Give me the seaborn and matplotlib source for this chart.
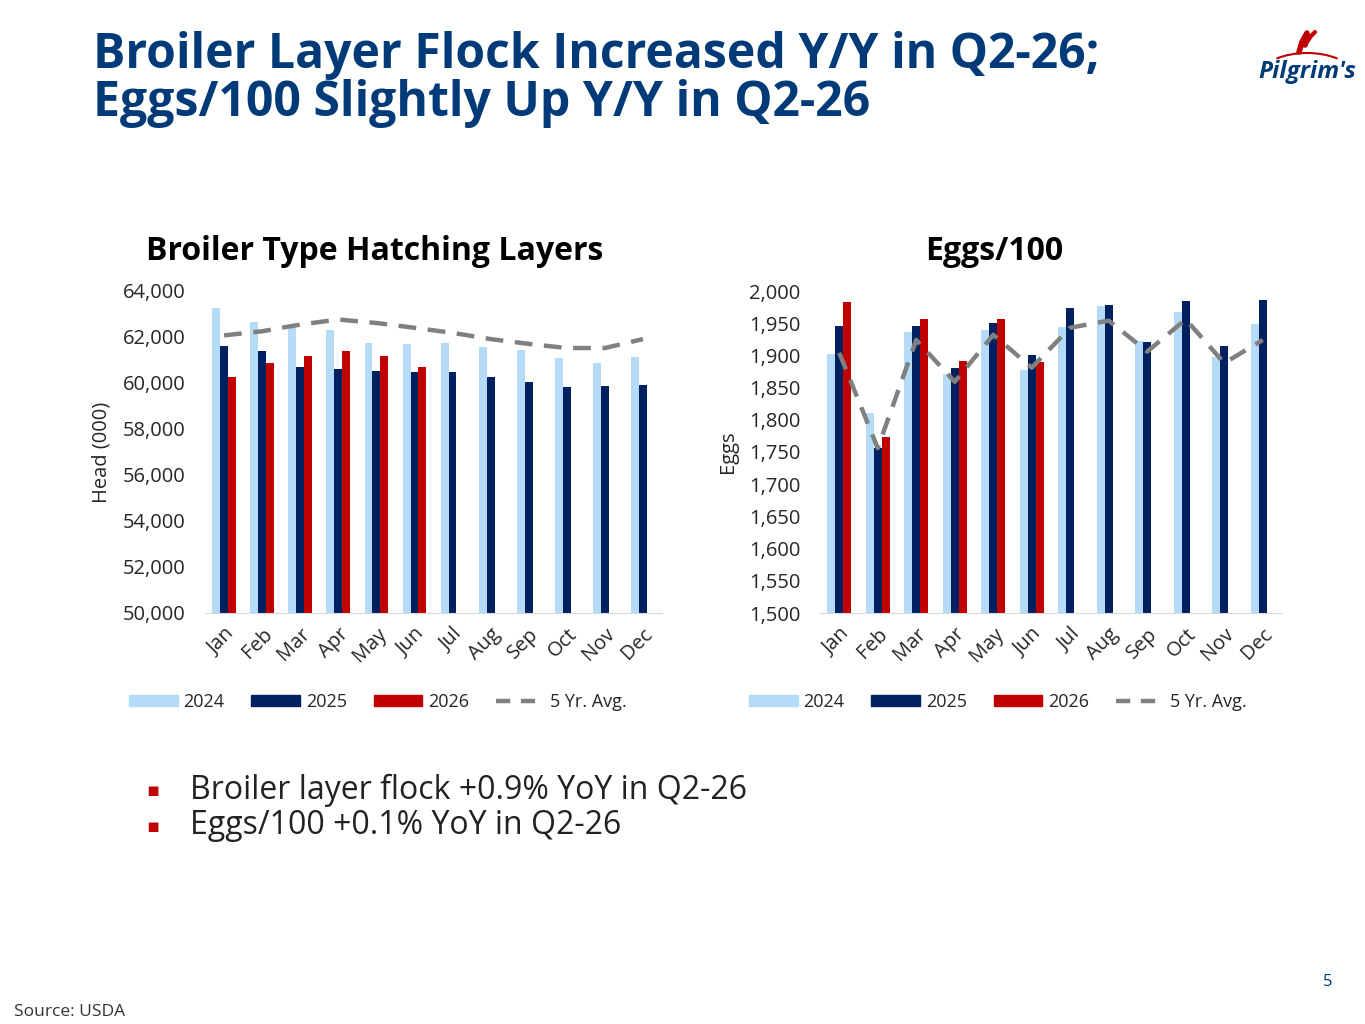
import numpy as np
import pandas as pd
import matplotlib
matplotlib.use("Agg")
import matplotlib.pyplot as plt
import seaborn as sns
from matplotlib.patches import Patch, Arc
from matplotlib.lines import Line2D
from matplotlib.ticker import FuncFormatter

# Data
months = ["Jan", "Feb", "Mar", "Apr", "May", "Jun",
          "Jul", "Aug", "Sep", "Oct", "Nov", "Dec"]
years = ["2024", "2025", "2026"]

layers_2024 = [63240, 62640, 62430, 62310, 61740, 61710,
               61730, 61550, 61430, 61070, 60860, 61140]
layers_2025 = [61610, 61390, 60680, 60600, 60530, 60490,
               60460, 60250, 60030, 59840, 59890, 59900]
layers_2026 = [60270, 60890, 61160, 61390, 61160, 60690,
               np.nan, np.nan, np.nan, np.nan, np.nan, np.nan]
layers_avg = [62070, 62250, 62540, 62760, 62610, 62400,
              62180, 61910, 61700, 61520, 61520, 61910]

eggs_2024 = [1902, 1810, 1936, 1871, 1939, 1878,
             1944, 1977, 1923, 1968, 1897, 1948]
eggs_2025 = [1945, 1756, 1945, 1881, 1950, 1900,
             1974, 1978, 1921, 1984, 1915, 1986]
eggs_2026 = [1983, 1774, 1956, 1892, 1957, 1890,
             np.nan, np.nan, np.nan, np.nan, np.nan, np.nan]
eggs_avg = [1904, 1756, 1924, 1859, 1932, 1881,
            1943, 1954, 1906, 1956, 1888, 1924]

LIGHT = "#B4DCF8"
NAVY = "#002060"
RED = "#C00000"
GRAY = "#808080"
TITLE_BLUE = "#003A78"

sns.set_style("white")
plt.rcParams["font.family"] = ["Open Sans", "DejaVu Sans"]


def long_frame(series):
    rows = []
    for yr, vals in zip(years, series):
        for m, v in zip(months, vals):
            if not np.isnan(v):
                rows.append({"month": m, "year": yr, "value": v})
    return pd.DataFrame(rows)


def draw_panel(ax, df, avg, ylim, step, ylabel, fmt, leg_x):
    sns.barplot(data=df, x="month", y="value", hue="year",
                order=months, hue_order=years,
                palette=[LIGHT, NAVY, RED], saturation=1,
                width=0.62, errorbar=None, legend=False, linewidth=0, ax=ax)
    sns.lineplot(x=np.arange(len(months)), y=avg, color=GRAY,
                 linewidth=3.2, dashes=False, ax=ax)
    ax.lines[-1].set_dashes((4, 2.6))
    ax.set_ylim(*ylim)
    ax.set_yticks(np.arange(ylim[0], ylim[1] + 1, step))
    ax.yaxis.set_major_formatter(FuncFormatter(fmt))
    ax.set_xlim(-0.5, len(months) - 0.5)
    ax.set_xlabel("")
    ax.set_ylabel(ylabel, fontsize=14.5, labelpad=8)
    ax.tick_params(axis="both", length=0, labelsize=14.5)
    ax.tick_params(axis="y", pad=14)
    ax.tick_params(axis="x", pad=8)
    for lab in ax.get_xticklabels():
        lab.set_rotation(45)
        lab.set_ha("right")
        lab.set_rotation_mode("anchor")
    for s in ["top", "right", "left"]:
        ax.spines[s].set_visible(False)
    ax.spines["bottom"].set_color("#D9D9D9")
    handles = [Patch(color=LIGHT, label="2024"),
               Patch(color=NAVY, label="2025"),
               Patch(color=RED, label="2026"),
               Line2D([0], [0], color=GRAY, lw=3.2, dashes=(3.2, 2.4),
                      label="5 Yr. Avg.")]
    ax.legend(handles=handles, loc="center", bbox_to_anchor=(leg_x, -0.275),
              ncol=4, frameon=False, fontsize=13, handlelength=2.7,
              handleheight=0.55, handletextpad=0.3, columnspacing=1.5)


fig = plt.figure(figsize=(13.65, 10.24), dpi=100)

ax1 = fig.add_axes([205 / 1365, 1 - 613 / 1024, 457 / 1365, 322 / 1024])
draw_panel(ax1, long_frame([layers_2024, layers_2025, layers_2026]), layers_avg,
           (50000, 64000), 2000, "Head (000)", lambda v, p: f"{v:,.0f}",
           (378 - 205) / 457)

ax2 = fig.add_axes([820 / 1365, 1 - 613 / 1024, 462 / 1365, 322 / 1024])
draw_panel(ax2, long_frame([eggs_2024, eggs_2025, eggs_2026]), eggs_avg,
           (1500, 2000), 50, "Eggs", lambda v, p: f"{v:,.0f}",
           (998 - 820) / 462)

# Titles
fig.text(93 / 1365, 1 - 55 / 1024, "Broiler Layer Flock Increased Y/Y in Q2-26;",
         fontsize=34.7, fontweight="bold", color=TITLE_BLUE, va="center")
fig.text(93 / 1365, 1 - 104 / 1024, "Eggs/100 Slightly Up Y/Y in Q2-26",
         fontsize=34.7, fontweight="bold", color=TITLE_BLUE, va="center")
fig.text(375 / 1365, 1 - 251 / 1024, "Broiler Type Hatching Layers",
         fontsize=23, fontweight="bold", color="black", ha="center", va="center")
fig.text(994 / 1365, 1 - 251 / 1024, "Eggs/100",
         fontsize=23, fontweight="bold", color="black", ha="center", va="center")

# Bullets
for y, txt in [(790, "Broiler layer flock +0.9% YoY in Q2-26"),
               (826, "Eggs/100 +0.1% YoY in Q2-26")]:
    fig.text(153 / 1365, 1 - y / 1024, "\u25aa", fontsize=14, color=RED,
             ha="center", va="center", family="DejaVu Sans")
    fig.text(190 / 1365, 1 - y / 1024, txt, fontsize=23, color="#222222",
             va="center")

fig.text(14 / 1365, 1 - 1012 / 1024, "Source: USDA", fontsize=12.5,
         color="#333333", va="center")
fig.text(1328 / 1365, 1 - 982 / 1024, "5", fontsize=12, color=TITLE_BLUE,
         ha="center", va="center")

# Logo
logo = fig.add_axes([1255 / 1365, 1 - 90 / 1024, 105 / 1365, 65 / 1024])
logo.set_xlim(0, 105)
logo.set_ylim(0, 65)
logo.axis("off")
logo.add_patch(Arc((52, 10), 100, 54, theta1=35, theta2=145, color=RED, lw=1.5))
logo.plot([44, 47, 52, 50], [38, 48, 57, 45], color=RED, lw=4,
          solid_capstyle="round")
logo.plot([50, 56, 60], [45, 54, 58], color=RED, lw=3, solid_capstyle="round")
logo.text(52, 18, "Pilgrim's", fontsize=17.5, fontweight="bold", style="italic",
          color=TITLE_BLUE, ha="center", va="center")

fig.savefig("out.png", dpi=100)
